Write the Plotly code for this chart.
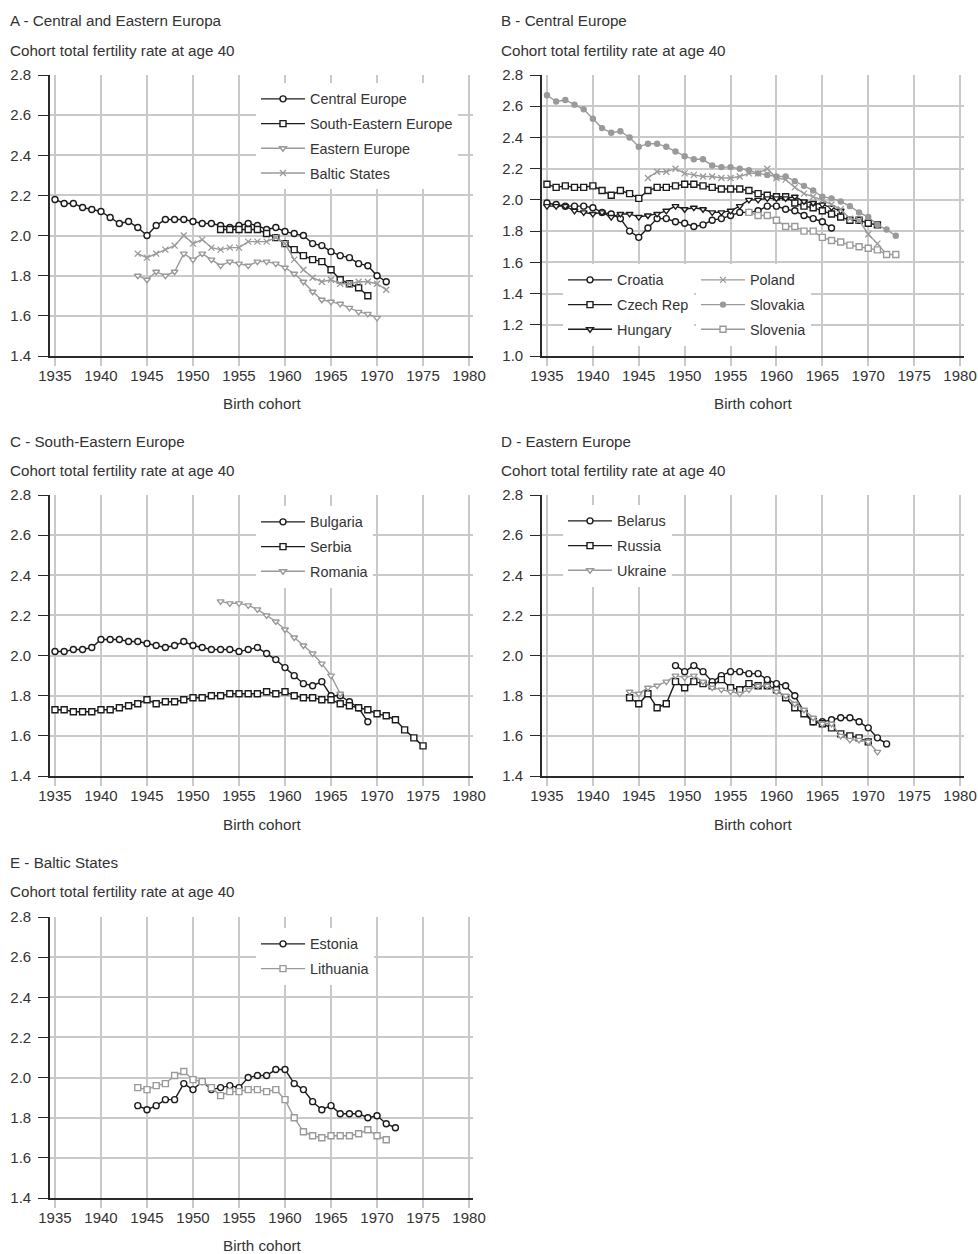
import plotly.graph_objects as go

W, H = 978, 1254
OFF = 0                      # body margin removed in the page (see post_script)
FW, FH = W, H

# ---------------- data ----------------
# Panel A
a_central_years = list(range(1935, 1972))
a_central = [2.18, 2.16, 2.16, 2.14, 2.13, 2.12, 2.09, 2.06, 2.07, 2.04, 2.00, 2.05, 2.08, 2.08, 2.08,
             2.07, 2.06, 2.06, 2.05, 2.04, 2.05, 2.06, 2.05, 2.03, 2.04, 2.02, 2.01, 2.00, 1.96, 1.95,
             1.92, 1.90, 1.89, 1.86, 1.85, 1.80, 1.77]
a_se_years = list(range(1953, 1970))
a_se = [2.03, 2.03, 2.03, 2.03, 2.03, 2.01, 1.99, 1.96, 1.93, 1.90, 1.88, 1.87, 1.83, 1.78, 1.76, 1.74, 1.70]
a_east_years = list(range(1944, 1971))
a_east = [1.80, 1.78, 1.82, 1.80, 1.82, 1.91, 1.88, 1.91, 1.88, 1.85, 1.87, 1.86, 1.85, 1.87, 1.87,
          1.86, 1.84, 1.81, 1.77, 1.72, 1.68, 1.67, 1.66, 1.64, 1.62, 1.61, 1.59]
a_baltic_years = list(range(1944, 1972))
a_baltic = [1.91, 1.89, 1.91, 1.93, 1.95, 2.00, 1.96, 1.98, 1.94, 1.93, 1.94, 1.94, 1.97, 1.97, 1.97,
            1.99, 1.96, 1.88, 1.83, 1.79, 1.77, 1.78, 1.76, 1.76, 1.77, 1.77, 1.76, 1.73]

# Panel B
b_croatia_years = list(range(1935, 1967))
b_croatia = [1.98, 1.97, 1.96, 1.96, 1.96, 1.95, 1.92, 1.91, 1.88, 1.80, 1.76, 1.82, 1.88, 1.88, 1.86,
             1.85, 1.83, 1.84, 1.87, 1.88, 1.90, 1.92, 1.92, 1.93, 1.96, 1.96, 1.94, 1.93, 1.90, 1.88,
             1.86, 1.82]
b_czech_years = list(range(1935, 1972))
b_czech = [2.10, 2.08, 2.09, 2.08, 2.08, 2.09, 2.06, 2.03, 2.06, 2.04, 2.01, 2.06, 2.08, 2.08, 2.09,
           2.10, 2.10, 2.09, 2.08, 2.07, 2.07, 2.07, 2.06, 2.04, 2.03, 2.02, 2.02, 1.98, 1.96, 1.95,
           1.93, 1.91, 1.89, 1.87, 1.87, 1.85, 1.84]
b_hungary_years = list(range(1935, 1968))
b_hungary = [1.96, 1.96, 1.96, 1.93, 1.92, 1.91, 1.92, 1.89, 1.91, 1.91, 1.89, 1.90, 1.91, 1.93, 1.96,
             1.94, 1.95, 1.94, 1.92, 1.92, 1.93, 1.96, 2.00, 2.00, 2.01, 2.01, 2.01, 2.02, 1.99, 1.98,
             1.97, 1.95, 1.93]
b_poland_years = list(range(1946, 1973))
b_poland = [2.14, 2.18, 2.18, 2.20, 2.17, 2.16, 2.15, 2.15, 2.14, 2.14, 2.15, 2.17, 2.17, 2.20, 2.14,
            2.13, 2.08, 2.04, 2.02, 2.00, 1.97, 1.94, 1.88, 1.87, 1.78, 1.72, 1.65]
b_slovakia_years = list(range(1935, 1974))
b_slovakia = [2.67, 2.63, 2.64, 2.61, 2.58, 2.52, 2.46, 2.43, 2.44, 2.40, 2.34, 2.36, 2.36, 2.34, 2.31,
              2.28, 2.26, 2.26, 2.22, 2.21, 2.21, 2.20, 2.19, 2.17, 2.16, 2.15, 2.15, 2.12, 2.09, 2.06,
              2.02, 2.01, 1.99, 1.96, 1.92, 1.89, 1.84, 1.81, 1.77]
b_slovenia_years = list(range(1957, 1974))
b_slovenia = [1.92, 1.90, 1.90, 1.87, 1.83, 1.83, 1.80, 1.80, 1.76, 1.74, 1.73, 1.71, 1.70, 1.69, 1.68,
              1.65, 1.65]

# Panel C
c_bulgaria_years = list(range(1935, 1970))
c_bulgaria = [2.02, 2.02, 2.03, 2.03, 2.04, 2.08, 2.08, 2.08, 2.07, 2.07, 2.06, 2.05, 2.04, 2.05, 2.07,
              2.05, 2.04, 2.03, 2.03, 2.03, 2.02, 2.03, 2.04, 2.01, 1.98, 1.94, 1.90, 1.86, 1.85, 1.87,
              1.80, 1.80, 1.77, 1.74, 1.67]
c_serbia_years = list(range(1935, 1976))
c_serbia = [1.73, 1.73, 1.72, 1.72, 1.72, 1.73, 1.73, 1.74, 1.75, 1.76, 1.78, 1.76, 1.77, 1.77, 1.78,
            1.79, 1.79, 1.80, 1.80, 1.81, 1.81, 1.81, 1.81, 1.82, 1.81, 1.82, 1.80, 1.79, 1.79, 1.78,
            1.78, 1.76, 1.75, 1.74, 1.73, 1.71, 1.70, 1.68, 1.63, 1.59, 1.55]
c_romania_years = list(range(1953, 1967))
c_romania = [2.27, 2.26, 2.26, 2.25, 2.23, 2.20, 2.17, 2.13, 2.09, 2.05, 2.01, 1.96, 1.90, 1.81]

# Panel D
d_belarus_years = list(range(1949, 1973))
d_belarus = [1.95, 1.92, 1.95, 1.92, 1.87, 1.90, 1.92, 1.92, 1.91, 1.91, 1.88, 1.86, 1.85, 1.80, 1.72,
             1.67, 1.67, 1.68, 1.69, 1.69, 1.67, 1.64, 1.59, 1.56]
d_russia_years = list(range(1944, 1971))
d_russia = [1.79, 1.76, 1.81, 1.74, 1.76, 1.87, 1.84, 1.87, 1.86, 1.85, 1.88, 1.84, 1.83, 1.86, 1.85,
            1.85, 1.83, 1.79, 1.74, 1.71, 1.67, 1.66, 1.64, 1.61, 1.60, 1.59, 1.57]
d_ukraine_years = list(range(1944, 1972))
d_ukraine = [1.82, 1.81, 1.84, 1.85, 1.87, 1.90, 1.89, 1.90, 1.87, 1.84, 1.83, 1.82, 1.81, 1.83, 1.85,
             1.85, 1.82, 1.80, 1.76, 1.73, 1.69, 1.66, 1.66, 1.60, 1.58, 1.58, 1.57, 1.52]

# Panel E
e_estonia_years = list(range(1944, 1973))
e_estonia = [1.86, 1.84, 1.86, 1.89, 1.89, 1.97, 1.94, 1.98, 1.94, 1.95, 1.96, 1.95, 2.00, 2.01, 2.01,
             2.04, 2.04, 1.97, 1.94, 1.88, 1.84, 1.86, 1.82, 1.82, 1.82, 1.80, 1.81, 1.77, 1.75]
e_lithuania_years = list(range(1944, 1972))
e_lithuania = [1.95, 1.94, 1.96, 1.97, 2.01, 2.03, 1.99, 1.98, 1.95, 1.91, 1.93, 1.93, 1.94, 1.94, 1.93,
               1.94, 1.89, 1.80, 1.73, 1.71, 1.70, 1.71, 1.71, 1.71, 1.72, 1.74, 1.71, 1.69]

panel_titles = ["A - Central and Eastern Europa", "B - Central Europe", "C - South-Eastern Europe",
                "D - Eastern Europe", "E - Baltic States"]
y_title = "Cohort total fertility rate at age 40"
x_title = "Birth cohort"
x_ticks = [1935, 1940, 1945, 1950, 1955, 1960, 1965, 1970, 1975, 1980]

# ---------------- styling ----------------
FONT = "Liberation Sans, Arial, sans-serif"
TXT = "#333333"
DARK = "#1c1c1c"
GREY = "#9a9a9a"
GRID = "#c9c9c9"
AXIS = "#2a2a2a"


def px_x(p):
    return (p - OFF) / FW


def px_y(p):
    return 1 - (p - OFF) / FH


# panel geometry in page pixels: (x0, x1, ytop, ybottom)
panels = [
    (50, 473, 75, 356),
    (542, 964, 75, 356),
    (50, 473, 495, 776),
    (542, 964, 495, 776),
    (50, 473, 917, 1198),
]
yranges = [(1.4, 2.8), (1.0, 2.8), (1.4, 2.8), (1.4, 2.8), (1.4, 2.8)]

fig = go.Figure()


def add(panel, name, xs, ys, color, symbol, legend, filled=False, msize=6):
    ax = "" if panel == 0 else str(panel + 1)
    marker = dict(symbol=symbol, size=msize,
                  color=(color if filled else "white"),
                  line=dict(color=color, width=1.4))
    if symbol == "x-thin":
        marker = dict(symbol=symbol, size=6, color=color, line=dict(color=color, width=1.3))
    fig.add_trace(go.Scatter(
        x=xs, y=ys, name=name, mode="lines+markers",
        line=dict(color=color, width=1.4),
        marker=marker,
        xaxis="x" + ax, yaxis="y" + ax,
        legend=legend, legendgroup=name,
    ))


add(0, "Central Europe", a_central_years, a_central, DARK, "circle", "legend")
add(0, "South-Eastern Europe", a_se_years, a_se, DARK, "square", "legend")
add(0, "Eastern Europe", a_east_years, a_east, GREY, "triangle-down", "legend")
add(0, "Baltic States", a_baltic_years, a_baltic, GREY, "x-thin", "legend")

add(1, "Croatia", b_croatia_years, b_croatia, DARK, "circle", "legend2")
add(1, "Czech Rep", b_czech_years, b_czech, DARK, "square", "legend2")
add(1, "Hungary", b_hungary_years, b_hungary, DARK, "triangle-down", "legend2")
add(1, "Poland", b_poland_years, b_poland, GREY, "x-thin", "legend3")
add(1, "Slovakia", b_slovakia_years, b_slovakia, GREY, "circle", "legend3", filled=True, msize=5)
add(1, "Slovenia", b_slovenia_years, b_slovenia, GREY, "square", "legend3")

add(2, "Bulgaria", c_bulgaria_years, c_bulgaria, DARK, "circle", "legend4")
add(2, "Serbia", c_serbia_years, c_serbia, DARK, "square", "legend4")
add(2, "Romania", c_romania_years, c_romania, GREY, "triangle-down", "legend4")

add(3, "Belarus", d_belarus_years, d_belarus, DARK, "circle", "legend5")
add(3, "Russia", d_russia_years, d_russia, DARK, "square", "legend5")
add(3, "Ukraine", d_ukraine_years, d_ukraine, GREY, "triangle-down", "legend5")

add(4, "Estonia", e_estonia_years, e_estonia, DARK, "circle", "legend6")
add(4, "Lithuania", e_lithuania_years, e_lithuania, GREY, "square", "legend6")

layout = dict(
    width=FW, height=FH, margin=dict(l=0, r=0, t=0, b=0, autoexpand=False),
    paper_bgcolor="white", plot_bgcolor="white",
    font=dict(family=FONT, size=14, color=TXT),
    showlegend=True,
)

for i, ((x0, x1, yt, yb), yr) in enumerate(zip(panels, yranges)):
    ax = "" if i == 0 else str(i + 1)
    layout["xaxis" + ax] = dict(
        domain=[px_x(x0), px_x(x1)], range=[1934.46, 1980.43],
        anchor="y" + ax, tickvals=x_ticks, ticks="outside", ticklen=8, tickcolor=GRID,
        tickwidth=1.5, showgrid=True, gridcolor=GRID, gridwidth=1.5,
        showline=True, linecolor=AXIS, linewidth=1.6, zeroline=False,
        tickfont=dict(size=15, color=TXT), ticklabelstandoff=-3, automargin=False,
    )
    yticks = [round(yr[0] + 0.2 * k, 1) for k in range(int(round((yr[1] - yr[0]) / 0.2)) + 1)]
    layout["yaxis" + ax] = dict(
        domain=[px_y(yb), px_y(yt)], range=list(yr),
        anchor="x" + ax, tickvals=yticks, ticktext=[f"{v:.1f}" for v in yticks],
        ticks="outside", ticklen=10, tickcolor=AXIS, tickwidth=1.4,
        showgrid=True, gridcolor=GRID, gridwidth=1.5,
        showline=True, linecolor=AXIS, linewidth=1.6, zeroline=False,
        tickfont=dict(size=15, color=TXT), ticklabelstandoff=4, automargin=False,
    )


def legend_at(xpx, ytop):
    return dict(x=px_x(xpx), y=px_y(ytop), xanchor="left", yanchor="top",
                bgcolor="white", borderwidth=0, itemwidth=44,
                tracegroupgap=3, font=dict(size=14.4, color=TXT),
                itemclick=False, itemdoubleclick=False)


layout["legend"] = legend_at(256, 83)
layout["legend2"] = legend_at(563, 264)
layout["legend3"] = legend_at(696, 264)
layout["legend4"] = legend_at(256, 506)
layout["legend5"] = legend_at(563, 505)
layout["legend6"] = legend_at(256, 928)

fig.update_layout(**layout)

# titles and axis labels as annotations
title_pos = [(8, 20, 50), (499, 20, 50), (8, 441, 470), (499, 441, 470), (8, 862, 891)]
for (x, ty, sy), t in zip(title_pos, panel_titles):
    fig.add_annotation(text=t, x=px_x(x), y=px_y(ty), xref="paper", yref="paper",
                       xanchor="left", yanchor="middle", showarrow=False,
                       font=dict(size=15.2, color=TXT))
    fig.add_annotation(text=y_title, x=px_x(x), y=px_y(sy), xref="paper", yref="paper",
                       xanchor="left", yanchor="middle", showarrow=False,
                       font=dict(size=15.2, color=TXT))

xlab_pos = [(261.5, 403), (753, 403), (261.5, 824), (753, 824), (261.5, 1245)]
for x, y in xlab_pos:
    fig.add_annotation(text=x_title, x=px_x(x), y=px_y(y), xref="paper", yref="paper",
                       xanchor="center", yanchor="middle", showarrow=False,
                       font=dict(size=15.2, color=TXT))

fig.write_html(
    "out.html",
    config={"displayModeBar": False},
    post_script="document.body.style.margin='0px';document.body.style.overflow='hidden';",
)
